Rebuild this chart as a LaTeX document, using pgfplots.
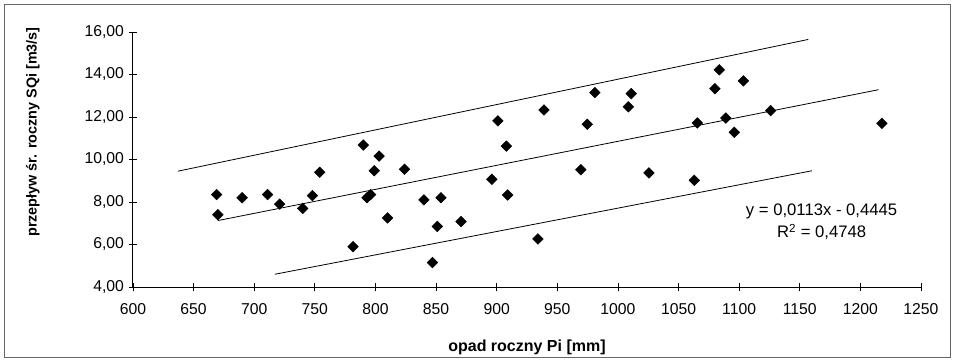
\documentclass[border=0pt]{standalone}
\usepackage{fontspec}
\setmainfont{Liberation Sans}
\usepackage{pgfplots}
\pgfplotsset{compat=1.18}
\begin{document}
\begin{tikzpicture}
\useasboundingbox ({-133*0.75pt},{-75*0.75pt}) rectangle ({821*0.75pt},{287*0.75pt});
\draw[black!60, line width=0.8pt] ({-128.5*0.75pt},{-70.5*0.75pt}) rectangle ({817.5*0.75pt},{282.5*0.75pt});
\begin{axis}[
  at={(0,0)}, anchor=south west,
  scale only axis,
  width={788*0.75pt}, height={255*0.75pt},
  xmin=600, xmax=1250, ymin=4, ymax=16,
  axis lines=left,
  axis line style={-, line width=0.75pt},
  xtick={600,650,...,1250},
  ytick={4,6,...,16},
  tick align=center,
  major tick length=6.5pt,
  tick style={line width=0.6pt, black},
  /pgf/number format/assume math mode=true,
  ticklabel style={font=\fontsize{11.8}{13}\selectfont},
  yticklabel style={/pgf/number format/.cd, fixed, fixed zerofill, precision=2, use comma},
  xticklabel style={/pgf/number format/1000 sep={}, yshift=-5.5pt},
  every axis y label/.style={at={(axis description cs:-0.127,0.608)}, rotate=90, anchor=center,
     font=\bfseries\fontsize{10.8}{12}\selectfont},
  every axis x label/.style={at={(axis description cs:0.5,0)}, yshift={-60.5*0.75pt}, anchor=center,
     font=\bfseries\fontsize{12}{14}\selectfont},
  xlabel={opad roczny Pi [mm]},
  ylabel={przepływ śr. roczny SQi [m3/s]},
  clip=false,
]
% upper and lower bounds, regression
\addplot[black, line width=0.6pt] coordinates {(637,9.45) (1157,15.65)};
\addplot[black, line width=0.6pt] coordinates {(670,7.1265) (1215,13.285)};
\addplot[black, line width=0.6pt] coordinates {(717,4.6) (1160,9.47)};
% observations
\addplot[only marks, mark=square*, mark size=2.8pt, black,
  every mark/.append style={rotate=45}] table {
x y
669 8.35
670 7.40
690 8.20
711 8.35
721 7.90
740 7.70
748 8.30
754 9.40
790 10.68
793 8.20
796 8.35
799 9.47
803 10.16
810 7.25
824 9.54
781.5 5.90
840 8.10
854 8.20
851 6.85
847 5.15
870.6 7.08
896 9.07
901 11.82
908 10.63
909 8.33
934 6.26
939 12.33
969.4 9.52
974.7 11.66
981 13.15
1008.6 12.48
1011 13.10
1025.6 9.37
1063 9.02
1065.5 11.72
1080 13.33
1083.6 14.22
1089 11.95
1096 11.28
1103.5 13.70
1126 12.30
1217.8 11.70
};
\node[align=center, font=\fontsize{12.5}{16.5}\selectfont] at (axis cs:1168,7.05)
  {y = 0,0113x - 0,4445\\R\textsuperscript{2} = 0,4748};
\end{axis}
\end{tikzpicture}
\end{document}
